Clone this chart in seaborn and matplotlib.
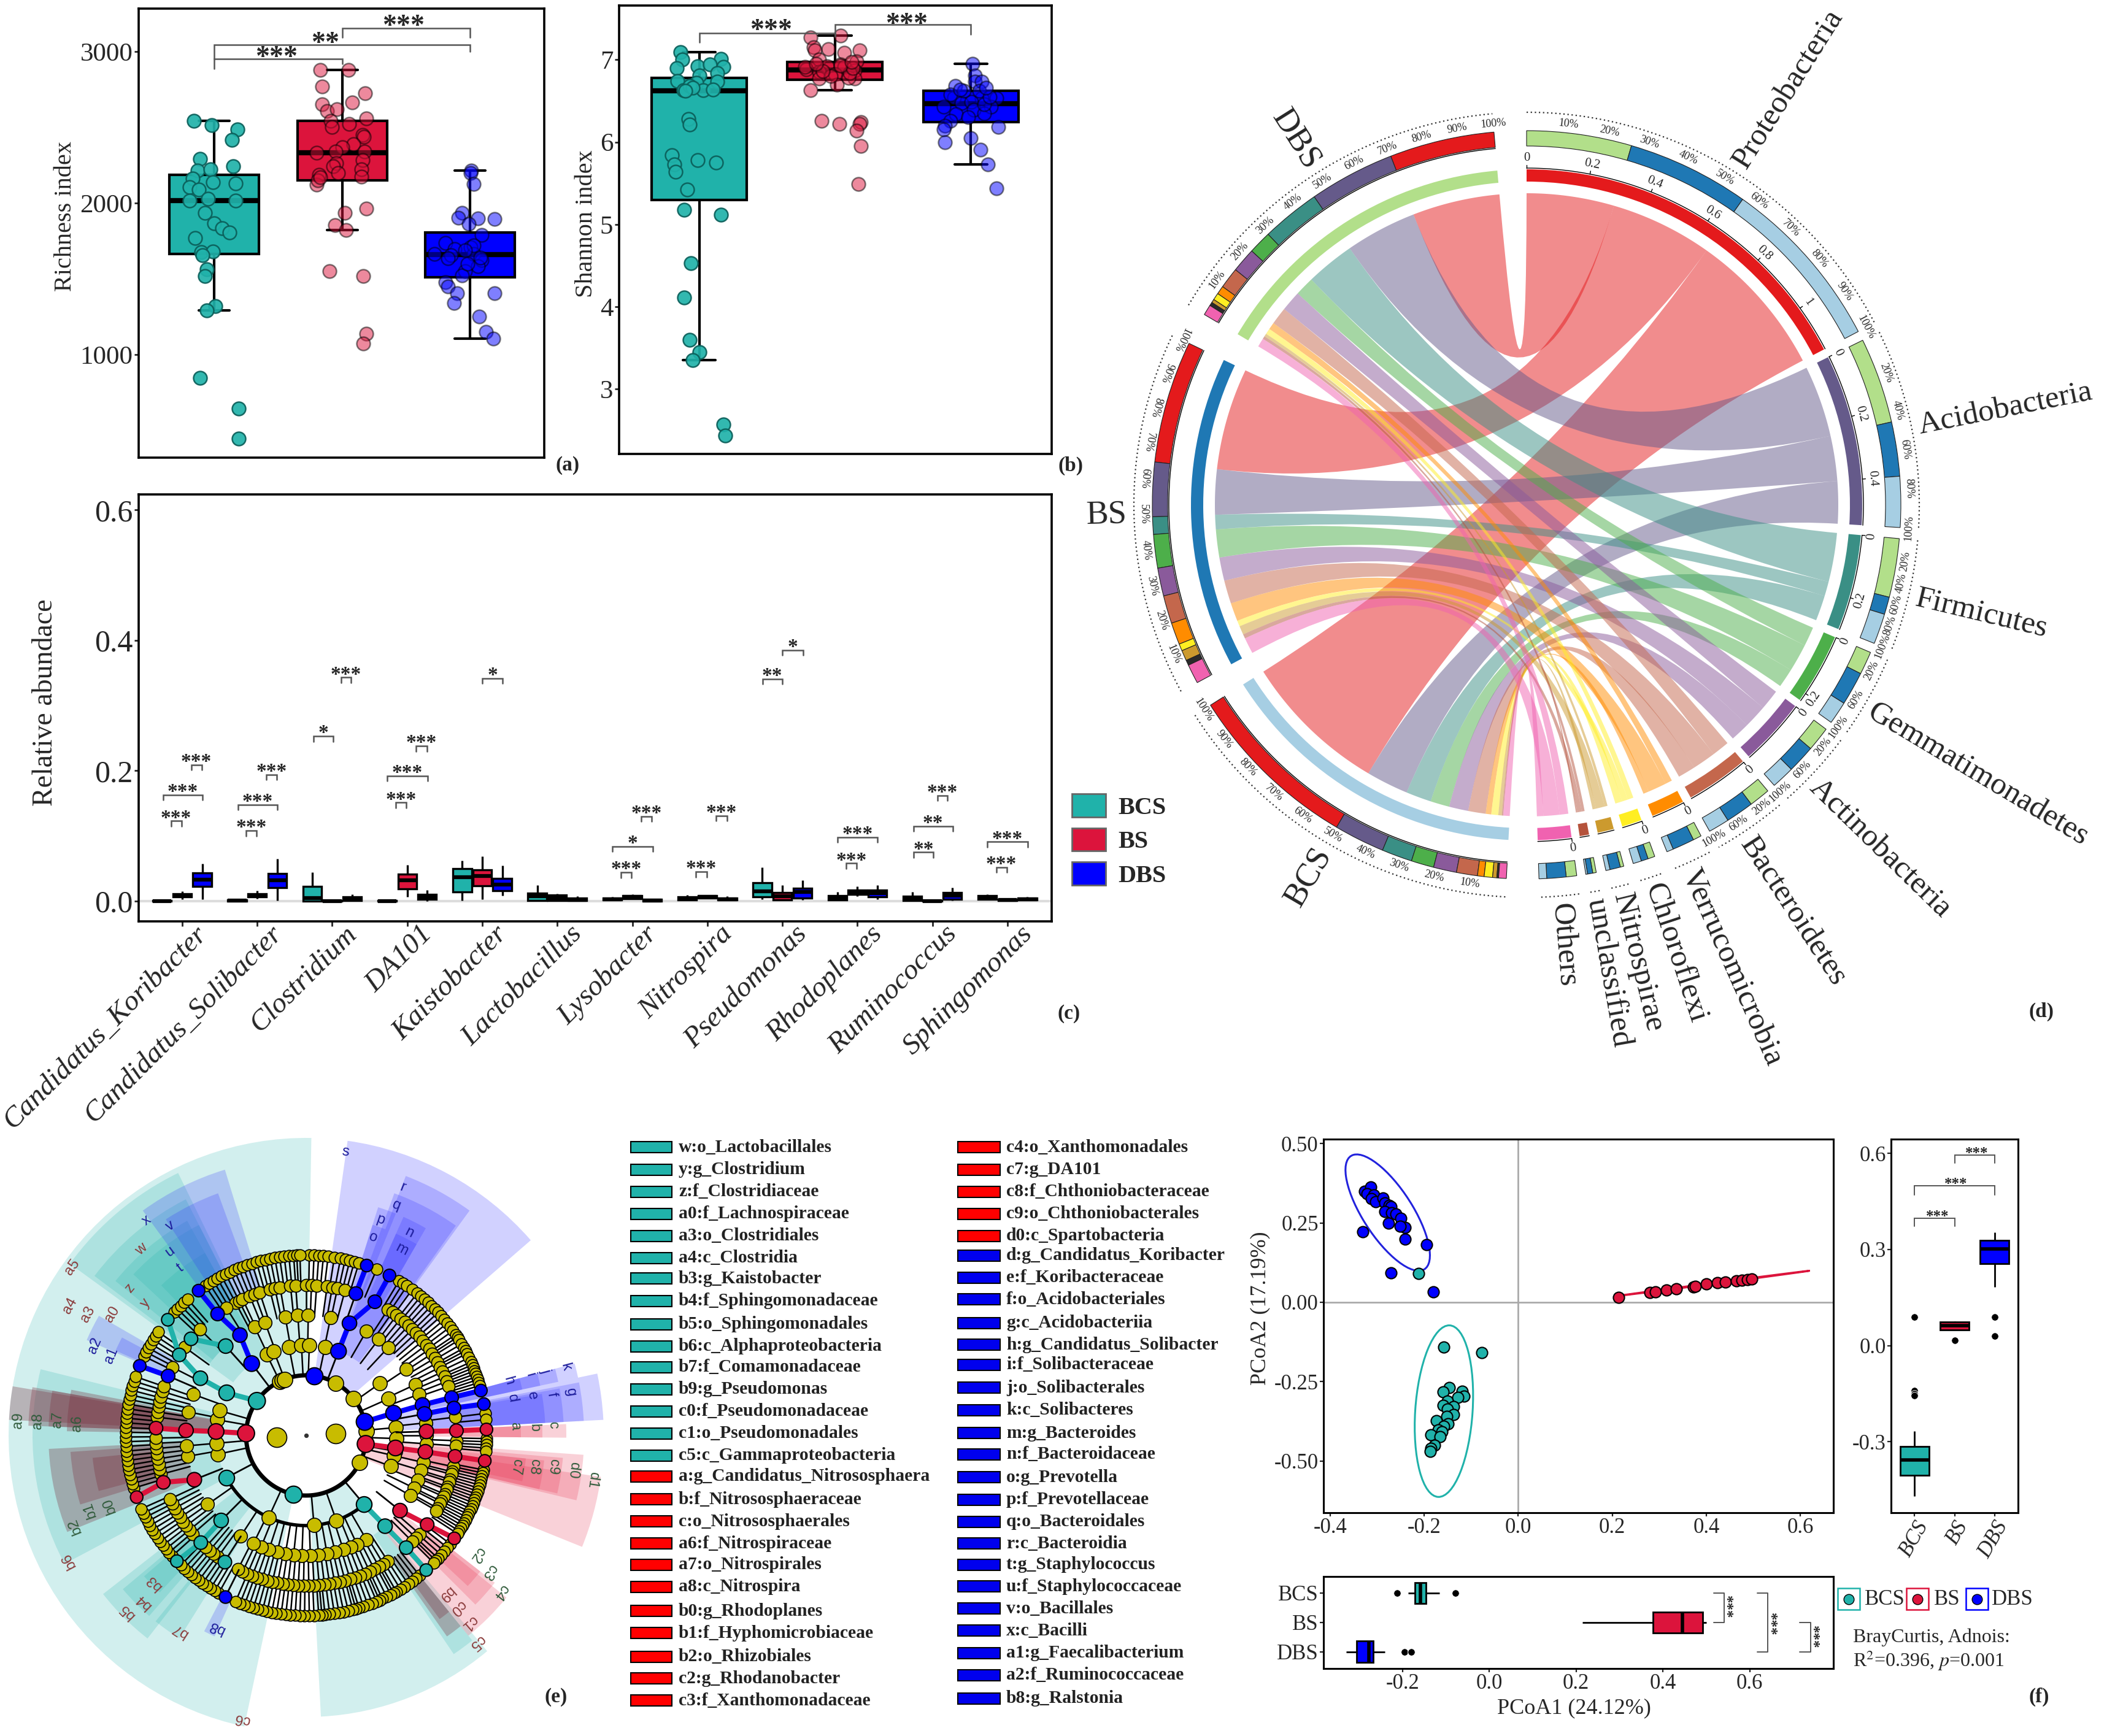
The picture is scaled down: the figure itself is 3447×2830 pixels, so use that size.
import numpy as np
import pandas as pd
import matplotlib
matplotlib.use("Agg")
import matplotlib.pyplot as plt
import seaborn as sns
from matplotlib.lines import Line2D
from matplotlib.patches import Ellipse, PathPatch, Patch, Rectangle, Wedge
from matplotlib.path import Path
from matplotlib.transforms import ScaledTranslation

W, H = 3447, 2830
DPI = 100

GROUPS = ["BCS", "BS", "DBS"]
TEAL, CRIMSON, BLUE = "#20B2AA", "#DC143C", "#0000FF"
PALETTE = {"BCS": TEAL, "BS": CRIMSON, "DBS": BLUE}

# panel (a) richness
A_BCS = [2543, 2512, 2486, 2415, 2293, 2244, 2213, 2223, 2161, 2130, 2136, 2105, 2089, 2017, 2017, 2030,
         1934, 1866, 1835, 1806, 1769, 1676, 1682, 1655, 1562, 1517, 1320, 1293, 847, 645, 446]
A_BCS_JIT = [-.16, -.02, .18, .14, -.11, .15, -.13, -.03, -.17, .17, -.01, -.19, -.12, .17, -.19, -.05,
             -.07, 0, .06, .12, -.15, -.10, -.01, -.09, -.06, -.07, .01, -.06, -.11, .19, .19]
A_BS = [2878, 2878, 2767, 2723, 2663, 2651, 2605, 2620, 2558, 2543, 2502, 2523, 2450, 2436, 2388, 2368,
        2341, 2333, 2338, 2285, 2264, 2244, 2223, 2188, 2120, 1965, 1934, 1855, 1820, 1552, 1517, 1138, 1072,
        2150, 2170, 2175, 2200]
A_BS_JIT = [-.17, .05, -.155, .18, .08, -.155, -.12, -.04, .19, -.09, -.08, .055, .16, .17, .09, 0,
            .175, -.2, -.05, .16, -.045, -.07, .15, -.18, -.2, .19, .02, -.055, .03, -.1, .165, .19, .165,
            -.19, -.17, .15, -.03]
A_DBS = [2213, 2198, 2126, 1934, 1903, 1893, 1899, 1862, 1789, 1738, 1696, 1707, 1665, 1655, 1665, 1624,
         1634, 1583, 1552, 1521, 1479, 1448, 1403, 1403, 1339, 1252, 1149, 1107, 1720, 1690, 1640, 1600]
A_DBS_JIT = [.01, .005, .03, -.065, -.09, .19, .06, -.01, .09, -.19, -.12, .005, -.28, -.15, .03, .09,
             -.175, .06, -.04, -.065, -.19, -.175, .19, -.1, -.125, .07, .125, .18, .03, -.04, .08, -.02]

# panel (b) shannon
B_BCS = [7.09, 7.0, 7.01, 6.90, 6.92, 6.91, 6.94, 6.81, 6.84, 6.74, 6.72, 6.73, 6.63, 6.63, 6.68, 6.66, 6.64, 6.62,
         6.28, 6.21, 5.84, 5.73, 5.78, 5.75, 5.64, 5.42, 5.18, 5.12, 4.53, 4.11, 3.60, 3.45, 3.35, 2.57, 2.44]
B_BCS_JIT = [-.14, -.125, .16, -.165, -.01, .18, .08, 0, .135, -.16, -.02, .135, -.115, .03, -.07, -.05, .1, -.1,
             -.08, -.07, -.2, -.185, -.01, .125, -.175, -.09, -.11, .16, -.06, -.11, -.07, 0, -.05, .18, .19]
B_BS = [7.27, 7.29, 7.15, 7.11, 7.13, 7.11, 7.08, 6.98, 7.0, 6.94, 6.92, 6.88, 6.91, 6.87, 6.85, 6.82, 6.91, 6.77,
        6.70, 6.77, 6.63, 6.26, 6.22, 6.24, 6.22, 6.14, 5.95, 5.49, 6.78, 6.80, 6.84, 6.86, 6.90, 6.93, 6.95, 6.97]
B_BS_JIT = [-.18, .04, -.16, -.15, -.05, .18, .07, .16, -.115, .04, -.06, -.21, .07, .145, -.115, 0, -.22, .145,
            .015, -.115, -.18, -.1, .03, .19, .18, .16, .19, .17, .1, -.03, .11, -.09, .13, .04, -.14, .12]
B_DBS = [6.95, 6.81, 6.68, 6.73, 6.73, 6.54, 6.53, 6.53, 6.47, 6.49, 6.43, 6.39, 6.34, 6.35, 6.26, 6.20, 6.15, 6.18,
         6.05, 6.0, 5.91, 5.73, 5.44, 6.58, 6.62, 6.62, 6.43, 6.46, 6.30, 6.55, 6.64, 6.66]
B_DBS_JIT = [.01, .03, -.115, .03, .08, -.125, .08, .19, -.07, .005, .15, .02, -.11, .1, -.15, -.19, -.2, .2,
             0, -.19, .07, .125, .19, -.15, -.05, .06, -.2, .1, -.02, .14, -.08, .11]

# panel (c) low, q1, median, q3, high for each genus
GENERA = ["Candidatus_Koribacter", "Candidatus_Solibacter", "Clostridium", "DA101", "Kaistobacter", "Lactobacillus",
          "Lysobacter", "Nitrospira", "Pseudomonas", "Rhodoplanes", "Ruminococcus", "Sphingomonas"]
C_BCS = [[0, 0, 0, .001, .002], [0, 0, .001, .002, .004], [0, 0, .005, .022, .044], [0, 0, 0, .001, .002],
         [.001, .014, .037, .050, .062], [0, .001, .007, .012, .024], [.001, .002, .003, .005, .006],
         [.001, .002, .004, .006, .009], [.003, .006, .015, .028, .052], [.001, .002, .005, .008, .014],
         [0, .001, .003, .007, .014], [.002, .003, .005, .008, .010]]
C_BS = [[.003, .006, .008, .011, .015], [.004, .006, .008, .011, .016], [0, 0, 0, .001, .002],
        [.006, .019, .032, .041, .055], [.003, .023, .038, .048, .069], [0, .001, .005, .009, .011],
        [.003, .004, .006, .008, .010], [.004, .005, .006, .008, .009], [.001, .002, .007, .013, .024],
        [.007, .010, .013, .017, .022], [0, 0, 0, .001, .002], [0, .001, .002, .003, .004]]
C_DBS = [[.003, .022, .033, .043, .057], [.001, .021, .032, .042, .065], [0, .001, .004, .006, .010],
         [0, .003, .006, .010, .017], [.008, .016, .025, .035, .054], [0, .001, .002, .005, .007],
         [0, 0, .001, .003, .004], [.001, .002, .003, .005, .007], [.002, .005, .014, .020, .032],
         [.003, .006, .012, .017, .024], [.001, .003, .008, .013, .021], [.001, .002, .003, .005, .006]]
# genus index, left offset, right offset, height, stars
C_BRACKETS = [(0, -.15, -.01, .123, "***"), (0, -.255, .27, .163, "***"), (0, .12, .26, .209, "***"),
              (1, -.15, -.01, .108, "***"), (1, -.255, .27, .148, "***"), (1, .12, .26, .194, "***"),
              (2, -.245, .01, .253, "*"), (2, .12, .25, .343, "***"),
              (3, -.15, -.01, .151, "***"), (3, -.265, .27, .192, "***"), (3, .12, .26, .238, "***"),
              (4, 0, .27, .342, "*"),
              (6, -.15, -.01, .044, "***"), (6, -.265, .27, .084, "*"), (6, .12, .26, .130, "***"),
              (7, -.15, -.01, .045, "***"), (7, .12, .26, .131, "***"),
              (8, -.265, 0, .341, "**"), (8, 0, .28, .385, "*"),
              (9, -.15, -.01, .058, "***"), (9, -.265, .27, .098, "***"),
              (10, -.25, .01, .075, "**"), (10, -.25, .27, .115, "**"), (10, .07, .2, .162, "***"),
              (11, -.15, -.01, .052, "***"), (11, -.265, .27, .091, "***")]

# panel (d) chord shares of each taxon in each sample
TAXA = ["Proteobacteria", "Acidobacteria", "Firmicutes", "Gemmatimonadetes", "Actinobacteria", "Bacteroidetes",
        "Verrucomicrobia", "Chloroflexi", "Nitrospirae", "unclassified", "Others"]
D_BCS = [.500, .145, .087, .065, .066, .060, .019, .024, .012, .005, .022]
D_BS = [.350, .155, .050, .096, .080, .080, .063, .020, .030, .015, .055]
D_DBS = [.300, .245, .168, .066, .070, .060, .024, .020, .010, .010, .030]
TAXA_COLORS = ["#E41A1C", "#655A8A", "#3A8F85", "#4DAF4A", "#8A5A9B", "#C4674C",
               "#FF8C00", "#FFEE22", "#CC9A2E", "#2A2A2A", "#F062B0"]
CHORD_COLORS = ["#E41A1C", "#655A8A", "#3A8F85", "#4DAF4A", "#8A5A9B", "#C4674C",
                "#FF8C00", "#FFEE22", "#CC9A2E", "#B5533C", "#F062B0"]
SAMPLE_COLORS = {"BCS": "#A6CEE3", "BS": "#1F78B4", "DBS": "#B2DF8A"}
TAXA_GAPS = [1.5, 1.7, 1.5, 1.3, 1.3, 1.5, 2.0, 1.5, 1.5, 1.4, 5.0]
SAMPLE_GAPS = [4.0, 5.0, 5.0]
VALUE_TICKS = [[0, .2, .4, .6, .8, 1], [0, .2, .4], [0, .2], [0, .2], [0], [0], [0], [0], [], [], [0]]
PCT_TICKS = [[10, 20, 30, 40, 50, 60, 70, 80, 90, 100], [20, 40, 60, 80, 100], [20, 40, 60, 80, 100],
             [20, 60, 100], [20, 60, 100], [20, 60, 100], [], [], [], [], []]
TAXA_LABEL_SHIFT = [1, 0, 0, 1.5, 1.5, 1.5, 1, 0, 0, 0, 0]

# panel (e) cladogram, ring radii then colored chains (start ring, angles)
RINGS = [0, 48, 98, 147, 196, 245, 294]
RING_SIZE = [0, 530, 330, 280, 240, 210, 180]
BLUE_CHAINS = [(2, [7.5]), (3, [322.8, 326.6, 323.9, 323.4]), (3, [21, 21.1, 27.2, 27.5]), (5, [19.3, 19.6]),
               (2, [76.9, 75.7, 75.3, 75.4, 75.6]), (4, [79.7, 79.5, 80]), (5, [293.3, 292.7]), (6, [206.6])]
TEAL_CHAINS = [(2, [305, 298.2, 298.4, 302.4, 309.9]), (4, [318, 310]), (3, [242]), (2, [192.4]),
               (4, [225, 224.5, 225.8]), (5, [212.9]), (3, [140, 139, 138.3, 138.3])]
RED_CHAINS = [(2, [272, 272.5, 272.4, 272.8]), (2, [98.2, 98, 97.8, 98, 98.1]), (4, [88.1, 88.2, 88.1]),
              (4, [248.4, 251.8, 250]), (4, [128.7, 126.4, 124.8])]
L1_OLIVE = [266, 86]
L2_OLIVE = [29.6, 52, 334, 336.5, 339, 117, 86]
L3_OLIVE = [334, 339, 349, 357, 2, 12, 54.8, 66, 85, 92, 100, 103, 110, 160.5, 175, 204.6, 258, 265, 280, 286]
L4_OLIVE = [334.6, 340, 350, 356, 1, 11.7, 30, 37, 43, 56.5, 65, 70, 84, 90, 94, 103, 107, 112, 116, 120,
            150, 155, 158, 162, 166, 170, 174, 178, 182, 186, 190, 194, 198, 202, 206, 213, 235, 260, 265, 281.3, 290]
L5_OLIVE = [332, 333.5, 335, 338, 340, 342, 346, 348, 350, 354, 356, 0, 2, 4, 8, 10, 12, 15, 33, 35, 37, 39, 41, 43,
            45, 47, 49, 51, 53, 55, 57, 59, 61, 63, 65, 67, 69, 71, 83, 92, 94, 102, 104, 105, 107, 108, 110, 111, 113,
            114, 116, 117, 119, 120, 131, 133, 135, 147, 149, 151, 153, 155, 157, 159, 161, 163, 165, 167, 169, 171,
            173, 175, 177, 179, 181, 183, 185, 187, 189, 191, 193, 195, 197, 199, 201, 203, 205, 207, 216, 218, 220,
            222, 229, 231, 233, 235, 237, 239, 241, 243, 245, 255, 257, 259, 261, 263, 265, 267, 269, 277, 279, 281,
            283, 285, 287, 289, 297, 306, 315, 328]
L6_OLIVE = [1, 2.5, 4, 5.5, 7, 9, 11, 12.5, 14, 15.5, 17, 23, 31, 32.5, 34, 36, 38, 39.5, 41, 42.5, 44, 45.5, 47, 48.5,
            50, 51.5, 53, 54.5, 56, 57, 58, 59.5, 61, 62, 63, 64.5, 66, 67, 68, 69, 70, 71, 72, 73, 74, 83, 85, 91, 92,
            93, 94, 95, 101, 102, 103, 104, 105, 106, 107, 108, 109, 110, 111, 112, 113, 114, 115, 116, 117, 118, 119,
            120, 121, 122, 123, 127, 128.5, 130, 131.5, 133, 134, 135, 141, 142.5, 144, 145.5, 147, 148.5, 150, 151,
            152, 153.5, 155, 156, 157, 158.5, 160, 161.5, 163, 164, 165, 166.5, 168, 169.5, 171, 172.5, 174, 175, 176,
            177.5, 179, 180.5, 182, 183.5, 185, 186.5, 188, 189.5, 191, 192.5, 194, 195.5, 197, 198.5, 200, 201.5, 203,
            209, 210.5, 212, 213.5, 215, 216.5, 218, 219.5, 221, 222.5, 224, 228, 229.5, 231, 232.5, 234, 235.5, 237,
            238.5, 240, 241.5, 243, 244.5, 246, 253, 254.5, 256, 257.5, 259, 260.5, 262, 263.5, 265, 266.5, 268, 269.5,
            271, 272.5, 274, 275.5, 277, 278.5, 280, 281.5, 283, 284.5, 286, 287.5, 289, 296, 297.5, 299, 300.5, 302,
            303.5, 305, 313, 314.5, 316, 317.5, 319, 326, 327.5, 329, 330.5, 332, 333.5, 335, 336.5, 338, 339.5, 341,
            342.5, 344, 345.5, 347, 348.5, 350, 351.5, 353, 354.5, 356, 357, 358]
OLIVE_RINGS = [L1_OLIVE, L2_OLIVE, L3_OLIVE, L4_OLIVE, L5_OLIVE, L6_OLIVE]
# clade shading: start angle, end angle, inner radius, outer radius
TEAL_WEDGES = [(192, 361, 98, 485), (140, 177, 98, 459), (242, 284, 147, 446), (306, 334, 147, 476),
               (307, 333, 196, 432), (309, 331, 196, 400), (313, 333, 245, 385), (316, 331, 245, 340),
               (218, 232, 147, 420), (221, 230, 196, 390), (223, 229, 245, 350), (212, 219, 196, 390),
               (141, 146, 196, 430)]
BLUE_WEDGES = [(8, 49, 98, 485), (21, 36, 147, 453), (20, 35.5, 196, 420), (17.5, 22, 245, 390), (17.5, 21, 294, 360),
               (24, 30, 245, 390), (24, 30, 294, 360), (78, 87, 147, 485), (79, 87, 196, 453), (79.5, 87, 245, 420),
               (80, 87, 294, 390), (75, 78, 147, 453), (75, 78, 196, 420), (75, 78, 245, 390), (75, 78, 294, 360),
               (324, 343, 245, 453), (327, 340, 294, 420), (293.5, 300, 245, 390), (294, 298, 294, 340),
               (204.5, 207.5, 294, 360)]
RED_WEDGES = [(98, 112, 98, 485), (94, 103.5, 147, 453), (95, 103, 196, 420), (96, 103, 245, 390), (96, 102, 294, 360),
              (129, 141, 196, 420), (128, 135, 245, 390), (128, 133, 294, 360),
              (87.5, 90.5, 196, 424), (87.5, 90.5, 245, 385), (87.5, 90.5, 294, 350)]
# red clades that sit inside a teal clade read as a grey mauve
MIXED_WEDGES = [(273, 279.5, 147, 485), (272, 280, 147, 453), (272, 280, 196, 420), (271, 281, 245, 390),
                (248, 267, 196, 420), (253, 266, 245, 385), (255, 264, 245, 350),
                (141, 145, 245, 400), (141, 144, 294, 370)]
RED_TEXT = [("a5", 305.7, 470), ("a4", 298.8, 439), ("a3", 299, 407), ("a0", 302, 373), ("z", 310, 374), ("y", 309.4, 339),
            ("w", 318.4, 405), ("b6", 242.2, 438), ("b5", 225.5, 409), ("b4", 224.3, 379), ("b3", 226, 345),
            ("b7", 212.9, 379), ("c6", 192.7, 474), ("c5", 140.5, 438), ("c1", 139, 405), ("c0", 138.7, 374), ("b9", 138.6, 344)]
BLUE_TEXT = [("s", 7.9, 467), ("r", 21.3, 434), ("q", 21.4, 403), ("p", 19, 371), ("o", 18.7, 341), ("n", 27, 371),
             ("m", 27.2, 341), ("x", 323.4, 437), ("v", 327, 407), ("u", 323.5, 373), ("t", 323, 341), ("a2", 293, 374),
             ("a1", 292.4, 343), ("b8", 205, 345), ("g", 80.8, 437), ("f", 80.5, 406), ("e", 80, 374), ("d", 79.8, 341),
             ("k", 75.2, 437), ("j", 74.9, 404), ("i", 74.8, 378), ("h", 74.8, 342)]
GREEN_TEXT = [("a9", 273, 470), ("a8", 273, 438), ("a7", 273.6, 406), ("a6", 273, 374), ("b2", 248.5, 405), ("b1", 251, 373),
              ("b0", 250.3, 341), ("c4", 128.8, 407), ("c3", 126.8, 372), ("c2", 125, 340), ("d1", 98.9, 473),
              ("d0", 97.5, 439), ("c9", 97.2, 406), ("c8", 97.8, 375), ("c7", 98.5, 346), ("c", 87.7, 403), ("b", 88, 372),
              ("a", 87.6, 341)]

# feature key of panel (e)
KEY_LEFT = ["w:o_Lactobacillales", "y:g_Clostridium", "z:f_Clostridiaceae", "a0:f_Lachnospiraceae", "a3:o_Clostridiales",
            "a4:c_Clostridia", "b3:g_Kaistobacter", "b4:f_Sphingomonadaceae", "b5:o_Sphingomonadales",
            "b6:c_Alphaproteobacteria", "b7:f_Comamonadaceae", "b9:g_Pseudomonas", "c0:f_Pseudomonadaceae",
            "c1:o_Pseudomonadales", "c5:c_Gammaproteobacteria", "a:g_Candidatus_Nitrososphaera", "b:f_Nitrososphaeraceae",
            "c:o_Nitrososphaerales", "a6:f_Nitrospiraceae", "a7:o_Nitrospirales", "a8:c_Nitrospira", "b0:g_Rhodoplanes",
            "b1:f_Hyphomicrobiaceae", "b2:o_Rhizobiales", "c2:g_Rhodanobacter", "c3:f_Xanthomonadaceae"]
KEY_LEFT_Y = [1870, 1907, 1943, 1979, 2015, 2051, 2084, 2121, 2159, 2195, 2229, 2265, 2301, 2337, 2373,
              2407, 2444, 2480, 2516, 2551, 2587, 2626, 2662, 2701, 2736, 2772]
KEY_RIGHT = ["c4:o_Xanthomonadales", "c7:g_DA101", "c8:f_Chthoniobacteraceae", "c9:o_Chthoniobacterales",
             "d0:c_Spartobacteria", "d:g_Candidatus_Koribacter", "e:f_Koribacteraceae", "f:o_Acidobacteriales",
             "g:c_Acidobacteriia", "h:g_Candidatus_Solibacter", "i:f_Solibacteraceae", "j:o_Solibacterales",
             "k:c_Solibacteres", "m:g_Bacteroides", "n:f_Bacteroidaceae", "o:g_Prevotella", "p:f_Prevotellaceae",
             "q:o_Bacteroidales", "r:c_Bacteroidia", "t:g_Staphylococcus", "u:f_Staphylococcaceae", "v:o_Bacillales",
             "x:c_Bacilli", "a1:g_Faecalibacterium", "a2:f_Ruminococcaceae", "b8:g_Ralstonia"]
KEY_RIGHT_Y = [1870, 1907, 1943, 1979, 2015, 2047, 2083, 2118, 2157, 2192, 2225, 2262, 2299, 2336, 2371,
               2408, 2445, 2481, 2516, 2551, 2586, 2622, 2658, 2695, 2731, 2769]

# panel (f) ordination
PCOA_BCS_X = [-.212, -.158, -.078, -.147, -.160, -.119, -.115, -.128, -.150, -.160, -.137, -.150, -.138, -.152, -.174,
              -.149, -.158, -.170, -.162, -.186, -.166, -.178, -.186, -.187]
PCOA_BCS_Y = [.091, -.142, -.158, -.269, -.282, -.280, -.295, -.300, -.312, -.324, -.328, -.337, -.353, -.359, -.374,
              -.383, -.390, -.402, -.408, -.417, -.424, -.451, -.461, -.470]
PCOA_BS_X = [.214, .280, .292, .315, .336, .373, .377, .400, .423, .441, .464, .476, .487, .497]
PCOA_BS_Y = [.016, .030, .033, .038, .043, .049, .050, .057, .062, .064, .068, .070, .071, .073]
PCOA_DBS_X = [-.326, -.313, -.321, -.307, -.312, -.303, -.288, -.284, -.274, -.271, -.284, -.269, -.260, -.249, -.240,
              -.251, -.276, -.330, -.240, -.195, -.271, -.181]
PCOA_DBS_Y = [.350, .363, .342, .338, .326, .317, .329, .313, .305, .301, .285, .282, .279, .264, .236, .239, .249,
              .222, .199, .181, .092, .032]
# low, q1, median, q3, high
SIDE_Y = {"BCS": [-.47, -.405, -.356, -.315, -.266], "BS": [.049, .049, .063, .073, .076], "DBS": [.183, .256, .302, .329, .354]}
SIDE_OUT_X = [0, 0, 0, 0, 1, 2, 2]
SIDE_OUT_Y = [.09, -.14, -.149, -.156, .016, .09, .03]
SIDE_X = {"BCS": [-.187, -.171, -.159, -.146, -.115], "BS": [.214, .377, .445, .492, .5], "DBS": [-.329, -.306, -.277, -.267, -.24]}
BOTTOM_OUT_X = [-.212, -.078, -.195, -.18]
BOTTOM_OUT_Y = [0, 0, 2, 2]


def px_axes(left, top, right, bottom):
    return fig.add_axes([left / W, 1 - bottom / H, (right - left) / W, (bottom - top) / H])


def polar(theta, r):
    rad = np.deg2rad(theta)
    return r * np.sin(rad), r * np.cos(rad)


def ring(ax, t1, t2, r0, r1, color, **kws):
    ax.add_patch(Wedge((0, 0), r1, 90 - t2, 90 - t1, width=r1 - r0, facecolor=color, **kws))


def arc(t1, t2, r):
    n = max(int(abs(t2 - t1) * 2), 2)
    return polar(np.linspace(t1, t2, n), r)


def stars(ax, x, y, text, size, vertical=False):
    if vertical:
        ax.annotate(text, (x, y), xytext=(-.48 * size, 0), textcoords="offset points", rotation=-90, ha="center",
                    va="baseline", rotation_mode="anchor", fontsize=size, fontweight="bold")
    else:
        ax.annotate(text, (x, y), xytext=(0, -.48 * size), textcoords="offset points", ha="center",
                    va="baseline", fontsize=size, fontweight="bold")


def bracket(ax, x1, x2, y, tip1, tip2, lw=1.8):
    ax.plot([x1, x1, x2, x2], [tip1, y, y, tip2], color="#555555", lw=lw, solid_joinstyle="miter", zorder=6)


def long_table(groups):
    return pd.DataFrame([(g, v) for g, values in groups.items() for v in values], columns=["group", "value"])


def box_panel(ax, groups, lw, med, caps, whis=1.5, width=.7, horizontal=False):
    df = long_table(groups)
    x, y = ("value", "group") if horizontal else ("group", "value")
    sns.boxplot(data=df, x=x, y=y, hue="group", order=GROUPS, hue_order=GROUPS, palette=PALETTE, width=width,
                linewidth=lw, linecolor="black", saturation=1, showfliers=False, whis=whis, legend=False,
                medianprops={"linewidth": med}, capwidths=caps, ax=ax)


def jitter_points(ax, pos, offsets, values, color, alpha, edge):
    sns.scatterplot(x=pos + np.array(offsets), y=values, color=color, alpha=alpha, edgecolor=edge, s=250,
                    linewidth=1.8, zorder=5, legend=False, ax=ax)


def frame(ax, lw=2.6):
    for spine in ax.spines.values():
        spine.set_visible(True)
        spine.set_linewidth(lw)
        spine.set_color("black")


sns.set_theme(style="white")
plt.rcParams["font.family"] = ["Liberation Serif", "DejaVu Serif"]
plt.rcParams["mathtext.fontset"] = "stix"
fig = plt.figure(figsize=(W / DPI, H / DPI), dpi=DPI, facecolor="white")

# (a)
ax = px_axes(226, 14, 887, 746)
box_panel(ax, {"BCS": A_BCS, "BS": A_BS, "DBS": A_DBS}, 3, 6, .24)
jitter_points(ax, 0, A_BCS_JIT, A_BCS, TEAL, .92, "#0B5F5A")
jitter_points(ax, 1, A_BS_JIT, A_BS, CRIMSON, .5, "black")
jitter_points(ax, 2, A_DBS_JIT, A_DBS, BLUE, .5, "black")
bracket(ax, 0, 1, 2950, 2888, 2920)
bracket(ax, 0, 2, 3045, 2950, 2998)
bracket(ax, 1, 2, 3153, 3091, 3091)
stars(ax, .485, 2998, "***", 33)
stars(ax, .87, 3091, "**", 33)
stars(ax, 1.482, 3205, "***", 33)
ax.set_xlim(-.59, 2.58)
ax.set_ylim(320, 3283)
ax.set_xticks([])
ax.set_yticks([1000, 2000, 3000])
ax.tick_params(axis="y", left=True, labelsize=31, length=5, width=2, pad=2)
ax.set_xlabel("")
ax.set_ylabel("Richness index", fontsize=29)
ax.yaxis.set_label_coords(-.153, .538)
frame(ax)

# (b)
ax = px_axes(1009, 9, 1714, 740)
box_panel(ax, {"BCS": B_BCS, "BS": B_BS, "DBS": B_DBS}, 3, 6, .24)
jitter_points(ax, 0, B_BCS_JIT, B_BCS, TEAL, .92, "#0B5F5A")
jitter_points(ax, 1, B_BS_JIT, B_BS, CRIMSON, .5, "black")
jitter_points(ax, 2, B_DBS_JIT, B_DBS, BLUE, .5, "black")
bracket(ax, 0, 1, 7.32, 7.21, 7.28)
bracket(ax, 1, 2, 7.425, 7.30, 7.31)
stars(ax, .53, 7.425, "***", 33)
stars(ax, 1.527, 7.50, "***", 33)
ax.set_xlim(-.59, 2.595)
ax.set_ylim(2.214, 7.657)
ax.set_xticks([])
ax.set_yticks([3, 4, 5, 6, 7])
ax.tick_params(axis="y", left=True, labelsize=31, length=5, width=2, pad=2)
ax.set_xlabel("")
ax.set_ylabel("Shannon index", fontsize=29)
ax.yaxis.set_label_coords(-.049, .513)
frame(ax)

# (c)
ax = px_axes(226, 806, 1714, 1502)
rows = []
for genus, bcs, bs, dbs in zip(GENERA, C_BCS, C_BS, C_DBS):
    for group, five in zip(GROUPS, (bcs, bs, dbs)):
        rows += [(genus, group, v) for v in five]
c_df = pd.DataFrame(rows, columns=["genus", "group", "value"])
ax.axhline(0, color="#DDDDDD", lw=3, zorder=0)
sns.boxplot(data=c_df, x="genus", y="value", hue="group", order=GENERA, hue_order=GROUPS, palette=PALETTE, width=.8,
            gap=.07, linewidth=2.4, linecolor="black", saturation=1, showfliers=False, whis=100, legend=False,
            medianprops={"linewidth": 4.5}, capwidths=0, ax=ax)
for i, left, right, y, text in C_BRACKETS:
    bracket(ax, i + left, i + right, y, y - .008, y - .008)
    stars(ax, i + (left + right) / 2, y + .011, text, 24)
ax.set_xlim(-.58, 11.59)
ax.set_ylim(-.0312, .624)
ax.set_yticks([0, .2, .4, .6])
ax.set_yticklabels(["0.0", "0.2", "0.4", "0.6"])
ax.tick_params(axis="y", left=True, labelsize=36, length=5, width=2, pad=2)
ax.tick_params(axis="x", bottom=True, length=6, width=2, pad=2)
ax.set_xticks(range(len(GENERA)))
ax.set_xticklabels(GENERA, rotation=45, ha="right", va="top", rotation_mode="anchor", fontsize=34, style="italic")
for label in ax.get_xticklabels():
    label.set_transform(label.get_transform() + ScaledTranslation(.19, .12, fig.dpi_scale_trans))
ax.set_xlabel("")
ax.set_ylabel("Relative abundace", fontsize=33)
ax.yaxis.set_label_coords(-.088, .513)
frame(ax)
fig.legend(handles=[Patch(facecolor=PALETTE[g], edgecolor="#666666", linewidth=2, label=g) for g in GROUPS],
           loc="upper left", bbox_to_anchor=(1711 / W, 1 - 1258 / H), frameon=False,
           prop={"weight": "bold", "size": 29}, handlelength=1.37, handleheight=1.05, labelspacing=.35, handletextpad=.5)

# (d)
ax = px_axes(1760, 0, W, 1700)
ax.set_xlim(1760 - 2488, W - 2488)
ax.set_ylim(823 - 1700, 823)
ax.axis("off")
shares = np.array([D_BCS, D_BS, D_DBS])
taxa_total = shares.sum(axis=0)
sample_total = shares.sum(axis=1)
unit = (360 - sum(TAXA_GAPS) - sum(SAMPLE_GAPS)) / (taxa_total.sum() + sample_total.sum())
taxa_start = []
cursor = 0
for total, gap in zip(taxa_total, TAXA_GAPS):
    taxa_start.append(cursor)
    cursor += total * unit + gap
sample_start = []
for total, gap in zip(sample_total, SAMPLE_GAPS):
    sample_start.append(cursor)
    cursor += total * unit + gap

R_CHORD, R_TRACK0, R_TRACK1, R_BAR0, R_BAR1, R_DOT = 508, 527, 547, 585, 610, 640
# slots inside each sample run from Others round to Proteobacteria
sample_slots = {}
for s, start in enumerate(sample_start):
    t = start
    for k in reversed(range(len(TAXA))):
        sample_slots[(s, k)] = (t, t + shares[s, k] * unit)
        t += shares[s, k] * unit
for k in range(len(TAXA)):
    t = taxa_start[k]
    for s in (2, 1, 0):
        a1, a2 = t, t + shares[s, k] * unit
        t = a2
        b1, b2 = sample_slots[(s, k)]
        ax_pts = np.column_stack(arc(a1, a2, R_CHORD))
        bx_pts = np.column_stack(arc(b1, b2, R_CHORD))
        verts = list(ax_pts) + [(0, 0), bx_pts[0]] + list(bx_pts[1:]) + [(0, 0), ax_pts[0]]
        codes = [Path.MOVETO] + [Path.LINETO] * (len(ax_pts) - 1) + [Path.CURVE3, Path.CURVE3] + \
                [Path.LINETO] * (len(bx_pts) - 1) + [Path.CURVE3, Path.CURVE3]
        ax.add_patch(PathPatch(Path(verts, codes), facecolor=CHORD_COLORS[k], edgecolor="none", alpha=.5))
        ring(ax, a1, a2, R_BAR0, R_BAR1, SAMPLE_COLORS[GROUPS[s]], edgecolor="#222222", linewidth=.8)


def tangent_rotation(theta):
    return 180 - theta if 90 < theta < 300 else -theta


for k, name in enumerate(TAXA):
    start, span = taxa_start[k], taxa_total[k] * unit
    ring(ax, start, start + span, R_TRACK0, R_TRACK1, CHORD_COLORS[k], edgecolor="none")
    ax.plot(*arc(start, start + span, R_TRACK1 + 2), color="black", lw=1)
    ax.plot(*arc(start, start + span, R_DOT), color="#333333", lw=1.6, ls=(0, (1, 2)))
    for value in VALUE_TICKS[k]:
        theta = start + value * unit
        ax.plot(*polar(np.array([theta, theta]), np.array([R_TRACK1 + 2, R_TRACK1 + 7])), color="black", lw=1)
        x, y = polar(theta, 565)
        ax.text(x, y, f"{value:g}", fontsize=15, ha="center", va="center", rotation=tangent_rotation(theta))
    for pct in PCT_TICKS[k]:
        theta = start + span * pct / 100
        x, y = polar(theta, 624)
        ax.text(x, y, f"{pct}%", fontsize=13, ha="center", va="center", rotation=tangent_rotation(theta))
    mid = start + span / 2 + TAXA_LABEL_SHIFT[k]
    x, y = polar(mid, 652)
    ax.text(x, y, name, fontsize=37, ha="left", va="center", rotation=90 - mid, rotation_mode="anchor")
for s, group in enumerate(GROUPS):
    start, span = sample_start[s], sample_total[s] * unit
    ring(ax, start, start + span, R_TRACK0, R_TRACK1, SAMPLE_COLORS[group], edgecolor="none")
    ax.plot(*arc(start, start + span, R_BAR0 - 2), color="black", lw=1)
    ax.plot(*arc(start, start + span, R_DOT), color="#333333", lw=1.6, ls=(0, (1, 2)))
    for k in range(len(TAXA)):
        t1, t2 = sample_slots[(s, k)]
        ring(ax, t1, t2, R_BAR0, R_BAR1, TAXA_COLORS[k], edgecolor="#222222", linewidth=.8)
    for pct in range(10, 101, 10):
        theta = start + span * pct / 100
        x, y = polar(theta, 624)
        ax.text(x, y, f"{pct}%", fontsize=13, ha="center", va="center", rotation=tangent_rotation(theta))
    mid = start + span / 2
    x, y = polar(mid, 652)
    ax.text(x, y, group, fontsize=39, ha="right", va="center", rotation=270 - mid, rotation_mode="anchor")

# (e)
ax = px_axes(0, 1830, 1000, 2830)
ax.set_xlim(-499, 501)
ax.set_ylim(-490, 510)
ax.axis("off")
for wedges, color, alpha in ((TEAL_WEDGES, TEAL, .2), (RED_WEDGES, "#E8304F", .22), (BLUE_WEDGES, "#3030FF", .22),
                             (MIXED_WEDGES, "#7A2A3A", .3)):
    for t1, t2, r0, r1 in wedges:
        ring(ax, t1, t2, r0, r1, color, edgecolor="none", alpha=alpha)
ax.plot(*arc(0, 360, RINGS[2]), color="black", lw=5, zorder=2)
ax.plot(*arc(140, 242, RINGS[3]), color="black", lw=4, zorder=2)
for level, angles in enumerate(OLIVE_RINGS, start=1):
    if level > 2:
        for theta in angles:
            ax.plot(*polar(np.array([theta, theta]), np.array([RINGS[level - 1], RINGS[level]])), color="black", lw=1.8, zorder=2)
    x, y = polar(np.array(angles), RINGS[level])
    sns.scatterplot(x=x, y=y, color="#C8BC00", edgecolor="black", linewidth=1.2, s=RING_SIZE[level], zorder=3,
                    legend=False, ax=ax)
for chains, color in ((BLUE_CHAINS, BLUE), (TEAL_CHAINS, TEAL), (RED_CHAINS, CRIMSON)):
    for level, angles in chains:
        levels = np.arange(level, level + len(angles))
        radii = np.array(RINGS)[levels]
        x, y = polar(np.array(angles), radii)
        if level > 2:
            inner_x, inner_y = polar(angles[0], RINGS[level - 1])
            ax.plot([inner_x, x[0]], [inner_y, y[0]], color="black", lw=2, zorder=3)
        ax.plot(x, y, color=color, lw=6, zorder=4)
        ax.scatter(x, y, color=color, edgecolor="black", linewidth=1.5, s=np.array(RING_SIZE)[levels] * 1.2, zorder=5)
ax.scatter([0], [0], s=18, color="#333333", zorder=5)
for labels, color in ((RED_TEXT, "#8A3A3A"), (BLUE_TEXT, "#1A1A9A"), (GREEN_TEXT, "#2F5A3A")):
    for name, theta, r in labels:
        x, y = polar(theta, r)
        ax.text(x, y, name, color=color, fontsize=17, family="Liberation Sans", ha="center", va="center", rotation=-theta)
ax.set_xlim(-499, 501)
ax.set_ylim(-490, 510)

# feature key
ax = px_axes(1000, 1830, 2050, 2830)
ax.set_xlim(1000, 2050)
ax.set_ylim(2830, 1830)
ax.axis("off")
for i, (name, y) in enumerate(zip(KEY_LEFT, KEY_LEFT_Y)):
    color = TEAL if i < 15 else "#FF0000"
    ax.add_patch(Rectangle((1028, y - 9), 67, 18, facecolor=color, edgecolor="black", lw=1.5))
    ax.text(1106, y, name, fontsize=21.3, fontweight="bold", va="center", color="#222222")
for i, (name, y) in enumerate(zip(KEY_RIGHT, KEY_RIGHT_Y)):
    color = "#FF0000" if i < 5 else "#0000EE"
    ax.add_patch(Rectangle((1561, y - 9), 69, 18, facecolor=color, edgecolor="black", lw=1.5))
    ax.text(1640, y, name, fontsize=21.3, fontweight="bold", va="center", color="#222222")

# (f) scatter
ax = px_axes(2157, 1857, 2988, 2466)
ax.axhline(0, color="#AAAAAA", lw=2, zorder=1)
ax.axvline(0, color="#AAAAAA", lw=2, zorder=1)
for group, xs, ys in (("DBS", PCOA_DBS_X, PCOA_DBS_Y), ("BCS", PCOA_BCS_X, PCOA_BCS_Y), ("BS", PCOA_BS_X, PCOA_BS_Y)):
    sns.scatterplot(x=xs, y=ys, color=PALETTE[group], edgecolor="black", linewidth=1.5, s=170, zorder=4, legend=False, ax=ax)
ax.add_patch(Ellipse((-.158, -.343), .122, .541, angle=-2.5, fill=False, edgecolor=TEAL, lw=2.2, zorder=3))
ax.add_patch(Ellipse((-.2775, .2825), .114, .392, angle=21.7, fill=False, edgecolor="#2222DD", lw=2.2, zorder=3))
ax.add_patch(Ellipse((.417, .060), .414, .003, angle=11, fill=False, edgecolor=CRIMSON, lw=2.2, zorder=3))
ax.set_xlim(-.414, .670)
ax.set_ylim(-.663, .514)
ax.set_xticks([-.4, -.2, 0, .2, .4, .6])
ax.set_xticklabels(["-0.4", "-0.2", "0.0", "0.2", "0.4", "0.6"])
ax.set_yticks([-.5, -.25, 0, .25, .5])
ax.set_yticklabels(["-0.50", "-0.25", "0.00", "0.25", "0.50"])
ax.tick_params(left=True, bottom=True, labelsize=25, length=4, width=1.6, pad=2)
ax.set_ylabel("PCoA2 (17.19%)", fontsize=26)
ax.yaxis.set_label_coords(-.104, .548)
frame(ax, 2.2)

# (f) right box panel
ax = px_axes(3082, 1857, 3289, 2466)
box_panel(ax, SIDE_Y, 2, 4, 0, whis=100, width=.72)
sns.scatterplot(x=SIDE_OUT_X, y=SIDE_OUT_Y, color="black", s=70, zorder=4, legend=False, ax=ax)
bracket(ax, 0, 1, .398, .372, .372, lw=1.4)
bracket(ax, 0, 2, .498, .47, .47, lw=1.4)
bracket(ax, 1, 2, .594, .57, .57, lw=1.4)
stars(ax, .58, .413, "***", 18)
stars(ax, 1.04, .513, "***", 18)
stars(ax, 1.56, .609, "***", 18)
ax.set_xlim(-.59, 2.59)
ax.set_ylim(-.521, .644)
ax.set_yticks([-.3, 0, .3, .6])
ax.set_yticklabels(["-0.3", "0.0", "0.3", "0.6"])
ax.tick_params(left=True, bottom=True, length=4, width=1.6, pad=2)
ax.tick_params(axis="y", labelsize=25)
ax.set_xticks([0, 1, 2])
ax.set_xticklabels(GROUPS, rotation=60, ha="right", va="top", rotation_mode="anchor", fontsize=25, style="italic")
ax.set_xlabel("")
ax.set_ylabel("")
frame(ax, 2.2)

# (f) bottom box panel
ax = px_axes(2157, 2570, 2988, 2720)
box_panel(ax, SIDE_X, 2, 4, 0, whis=100, width=.72, horizontal=True)
sns.scatterplot(x=BOTTOM_OUT_X, y=BOTTOM_OUT_Y, color="black", s=70, zorder=4, legend=False, ax=ax)
ax.plot([.517, .541, .541, .517], [0, 0, 1, 1], color="#555555", lw=1.4)
ax.plot([.617, .642, .642, .617], [0, 0, 2, 2], color="#555555", lw=1.4)
ax.plot([.715, .740, .740, .715], [1, 1, 2, 2], color="#555555", lw=1.4)
stars(ax, .553, .47, "***", 18, vertical=True)
stars(ax, .655, 1.07, "***", 18, vertical=True)
stars(ax, .752, 1.5, "***", 18, vertical=True)
ax.set_xlim(-.382, .793)
ax.set_ylim(2.57, -.56)
ax.set_xticks([-.2, 0, .2, .4, .6])
ax.set_xticklabels(["-0.2", "0.0", "0.2", "0.4", "0.6"])
ax.tick_params(left=True, bottom=True, labelsize=25, length=4, width=1.6, pad=2)
ax.set_ylabel("")
ax.set_xlabel("PCoA1 (24.12%)", fontsize=26)
ax.xaxis.set_label_coords(.491, -.32)
frame(ax, 2.2)

# overlay for the small key and panel letters
ov = px_axes(0, 0, W, H)
ov.set_xlim(0, W)
ov.set_ylim(H, 0)
ov.axis("off")
for group, left, text_x in (("BCS", 2995, 3039), ("BS", 3107, 3152), ("DBS", 3204, 3246)):
    ov.add_patch(Rectangle((left, 2589), 36, 35, fill=False, edgecolor=PALETTE[group], lw=1.8))
    ov.add_line(Line2D([left + 18], [2607], marker="o", ms=12, mfc=PALETTE[group], mec="black", mew=1))
    ov.text(text_x, 2607, group, fontsize=25, va="center")
ov.text(3020, 2669, "BrayCurtis, Adnois:", fontsize=23, va="center")
ov.text(3020, 2707, r"R$^{2}$=0.396, $\mathit{p}$=0.001", fontsize=23, va="center")
for letter, x, y in (("(a)", 925, 759), ("(b)", 1745, 759), ("(c)", 1742, 1652), ("(d)", 3327, 1649),
                     ("(e)", 906, 2766), ("(f)", 3323, 2766)):
    ov.text(x, y, letter, fontsize=24, fontweight="bold", ha="center", va="center")

fig.savefig("out.png", dpi=DPI)
